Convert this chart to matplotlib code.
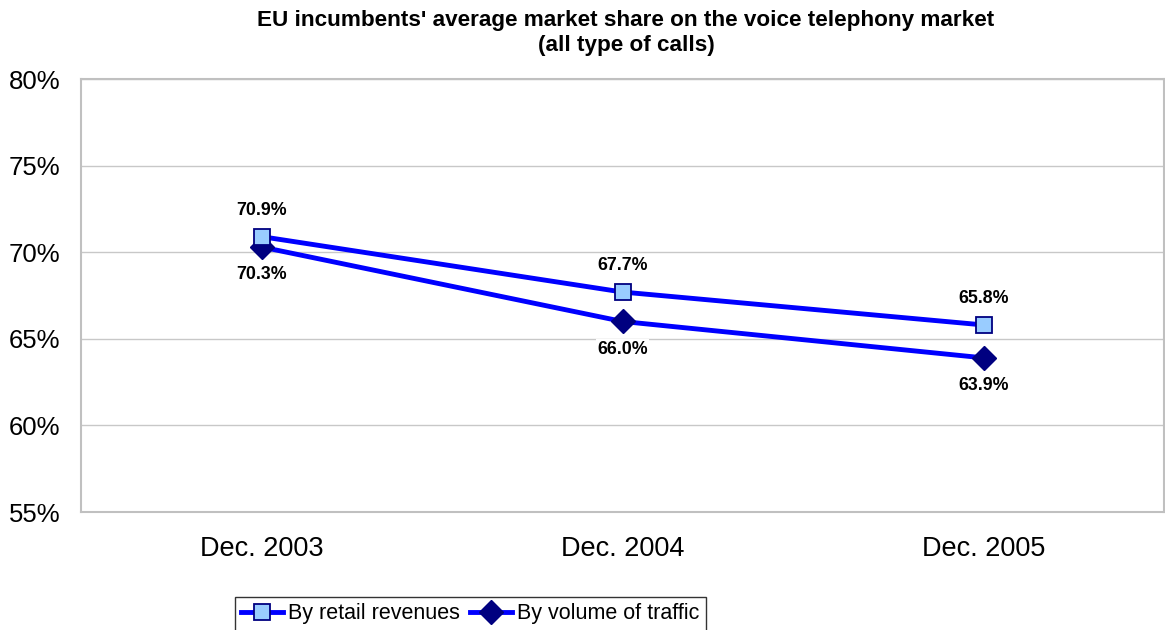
import matplotlib.pyplot as plt
from matplotlib.ticker import FuncFormatter

plt.rcParams['font.family'] = ['Liberation Sans', 'DejaVu Sans']

categories = ['Dec. 2003', 'Dec. 2004', 'Dec. 2005']
retail_revenues = [70.9, 67.7, 65.8]
traffic_volume = [70.3, 66.0, 63.9]
y_ticks = [55, 60, 65, 70, 75, 80]

fig = plt.figure(figsize=(11.65, 6.3), dpi=100)
ax = fig.add_axes([81/1165, 118/630, 1083/1165, 433/630])

x = list(range(len(categories)))
ax.plot(x, retail_revenues, color='#0000ff', lw=3.5, marker='s', ms=11.5,
        mfc='#99ccff', mec='#000080', mew=1.3, label='By retail revenues', zorder=4)
ax.plot(x, traffic_volume, color='#0000ff', lw=3.5, marker='D', ms=12,
        mfc='#000080', mec='#000080', label='By volume of traffic', zorder=3)

for xi, v in zip(x, retail_revenues):
    ax.annotate(f'{v:.1f}%', (xi, v), xytext=(0, 19), textcoords='offset points',
                ha='center', va='center', fontsize=12.8, fontweight='bold',
                bbox=dict(fc='white', ec='none', pad=1), zorder=5)
for xi, v in zip(x, traffic_volume):
    ax.annotate(f'{v:.1f}%', (xi, v), xytext=(0, -20), textcoords='offset points',
                ha='center', va='center', fontsize=12.8, fontweight='bold',
                bbox=dict(fc='white', ec='none', pad=1), zorder=5)

ax.set_xlim(-0.5, 2.5)
ax.set_ylim(55, 80)
ax.set_yticks(y_ticks)
ax.yaxis.set_major_formatter(FuncFormatter(lambda v, p: f'{v:.0f}%'))
ax.set_xticks(x)
ax.set_xticklabels(categories)
ax.tick_params(axis='y', length=0, labelsize=18.5, pad=15)
ax.tick_params(axis='x', length=0, labelsize=19.5, pad=17)
ax.grid(axis='y', color='#c8c8c8', lw=1)
ax.set_axisbelow(True)
for s in ax.spines.values():
    s.set_color('#c0c0c0')
    s.set_linewidth(1.5)

fig.text(626/1165, 1 - 33/630, "EU incumbents' average market share on the voice telephony market\n(all type of calls)",
         ha='center', va='center', fontsize=16.2, fontweight='bold', linespacing=1.2)

leg = fig.legend(loc='upper left', bbox_to_anchor=(235/1165, 33/630), ncol=2,
                 fontsize=15.5, frameon=True, fancybox=False, borderaxespad=0,
                 handlelength=1.95, handletextpad=0.2, columnspacing=0.5,
                 borderpad=0.3)
leg.get_frame().set_edgecolor('black')
leg.get_frame().set_linewidth(1)

fig.savefig('out.png', dpi=100)
